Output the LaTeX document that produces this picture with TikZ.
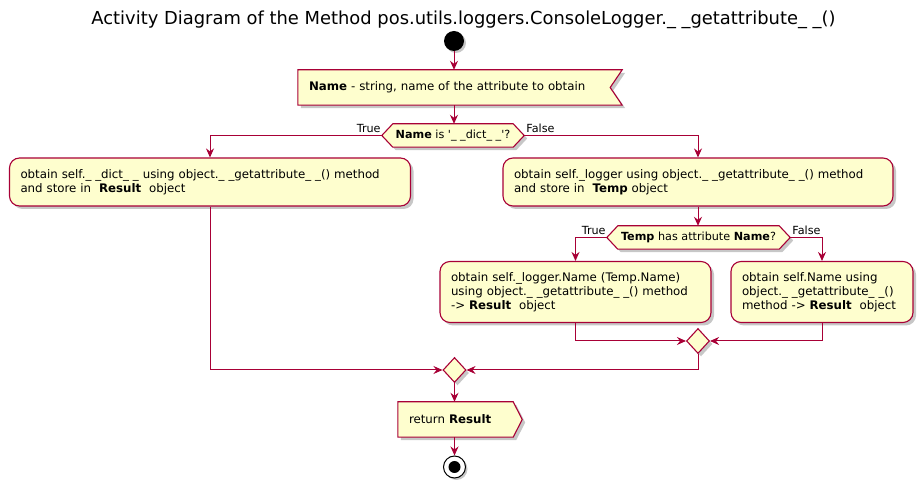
\documentclass[tikz,border=0pt]{standalone}
\usepackage{fontspec}
\newfontfamily\umlfont{DejaVu Sans}
\usetikzlibrary{arrows.meta,shapes.geometric,shadows,calc}
\definecolor{umlred}{HTML}{A80036}
\definecolor{umlfill}{HTML}{FEFECE}
\pgfdeclarelayer{bg}\pgfsetlayers{bg,main}
\tikzset{
  conn/.style={draw=umlred, line width=1pt, -{Stealth[length=9pt,width=8pt,inset=3pt]}},
  shp/.style={draw=umlred, fill=umlfill, line width=1.1pt,
    drop shadow={shadow xshift=3pt,shadow yshift=-3pt,opacity=0.22,fill=black}},
  txt/.style={font=\umlfont\fontsize{11.8}{14}\selectfont, align=left, inner xsep=11pt, inner ysep=0pt},
  act/.style={shp, rounded corners=10pt, txt},
  plainbox/.style={txt, draw=none},
  lbl/.style={font=\umlfont\fontsize{11.2}{13}\selectfont, inner sep=0pt},
  dtxt/.style={font=\umlfont\fontsize{11.2}{13}\selectfont, inner sep=0pt, draw=none},
  merge/.style={shp, diamond, minimum width=23pt, minimum height=25pt, inner sep=0pt},
}
\begin{document}
\begin{tikzpicture}[x=1pt,y=-1pt]
\useasboundingbox (0,0) rectangle (922,486);

\node[font=\umlfont\fontsize{17.9}{21}\selectfont, inner sep=0pt] (title) at (463.5,20)
  {Activity Diagram of the Method pos.utils.loggers.ConsoleLogger.\_ \_getattribute\_ \_()};

% start
\node[circle, fill=black, minimum size=20pt, inner sep=0pt,
  drop shadow={shadow xshift=2pt,shadow yshift=-2pt,opacity=0.22,fill=black}] (start) at (454,41) {};

% input
\node[plainbox, text width=302pt, minimum height=35pt] (inp) at (460,87.5)
  {\textbf{Name} - string, name of the attribute to obtain};
\begin{pgfonlayer}{bg}
\path[shp] (inp.north west) -- (inp.north east) -- ($(inp.east)+(-12,0)$) -- (inp.south east) -- (inp.south west) -- cycle;
\end{pgfonlayer}

% decision 1
\node[dtxt, minimum width=120pt, minimum height=23pt] (d1) at (453,135.5)
  {\textbf{Name} is '\_ \_dict\_ \_'?};
\coordinate (d1w) at ($(d1.west)+(-11,0)$);
\coordinate (d1e) at ($(d1.east)+(11,0)$);
\begin{pgfonlayer}{bg}
\path[shp] (d1w) -- (d1.north west) -- (d1.north east) -- (d1e) -- (d1.south east) -- (d1.south west) -- cycle;
\end{pgfonlayer}
\node[lbl, anchor=base east] (t1) at ($(d1w)+(-1,-3)$) {True};
\node[lbl, anchor=base west] (f1) at ($(d1e)+(2,-3)$) {False};

% actions
\node[act, text width=379pt, minimum height=48pt] (a1) at (210,182)
  {obtain self.\_ \_dict\_ \_ using object.\_ \_getattribute\_ \_() method\\and store in\ \ \textbf{Result}\ \ object};
\node[act, text width=368pt, minimum height=48pt] (a2) at (698,182)
  {obtain self.\_logger using object.\_ \_getattribute\_ \_() method\\and store in\ \ \textbf{Temp} object};

% decision 2
\node[dtxt, minimum width=161pt, minimum height=23pt] (d2) at (698.5,237.5)
  {\textbf{Temp}\ has attribute \textbf{Name}?};
\coordinate (d2w) at ($(d2.west)+(-11,0)$);
\coordinate (d2e) at ($(d2.east)+(11,0)$);
\begin{pgfonlayer}{bg}
\path[shp] (d2w) -- (d2.north west) -- (d2.north east) -- (d2e) -- (d2.south east) -- (d2.south west) -- cycle;
\end{pgfonlayer}
\node[lbl, anchor=base east] (t2) at ($(d2w)+(-1,-3)$) {True};
\node[lbl, anchor=base west] (f2) at ($(d2e)+(2,-3)$) {False};

\node[act, text width=249pt, minimum height=61pt] (a3) at (575.5,292)
  {obtain self.\_logger.Name (Temp.Name)\\using object.\_ \_getattribute\_ \_() method\\-> \textbf{Result}\ \ object};
\node[act, text width=160pt, minimum height=61pt] (a4) at (822,292)
  {obtain self.Name using\\object.\_ \_getattribute\_ \_()\\method -> \textbf{Result}\ \ object};

% merges
\node[merge] (m1) at (698,341) {};
\node[merge] (m2) at (454.5,370) {};

% return
\node[plainbox, text width=93pt, minimum height=35pt] (ret) at (455.5,419.5)
  {return \textbf{Result}};
\begin{pgfonlayer}{bg}
\path[shp] (ret.north west) -- (ret.north east) -- ($(ret.east)+(9,0)$) -- (ret.south east) -- (ret.south west) -- cycle;
\end{pgfonlayer}

% stop
\node[circle, draw=black, fill=white, line width=1pt, minimum size=22pt, inner sep=0pt,
  drop shadow={shadow xshift=2pt,shadow yshift=-2pt,opacity=0.22,fill=black}] (stop) at (454.5,467) {};
\node[circle, fill=black, minimum size=12pt, inner sep=0pt] (stopin) at (stop) {};

% connectors
\draw[conn] (start.south) -- (start.south |- inp.north);
\draw[conn] (start |- inp.south) -- (start |- d1.north);
\draw[conn] (d1w) -| (a1.north);
\draw[conn] (d1e) -| (a2.north);
\draw[conn] (a2.south) -- (a2.south |- d2.north);
\draw[conn] (d2w) -| (a3.north);
\draw[conn] (d2e) -| (a4.north);
\draw[conn] (a3.south) |- (m1.west);
\draw[conn] (a4.south) |- (m1.east);
\draw[conn] (m1.south) |- (m2.east);
\draw[conn] (a1.south) |- (m2.west);
\draw[conn] (m2.south) -- (m2.south |- ret.north);
\draw[conn] (m2.south |- ret.south) -- (stop.north);
\end{tikzpicture}
\end{document}
